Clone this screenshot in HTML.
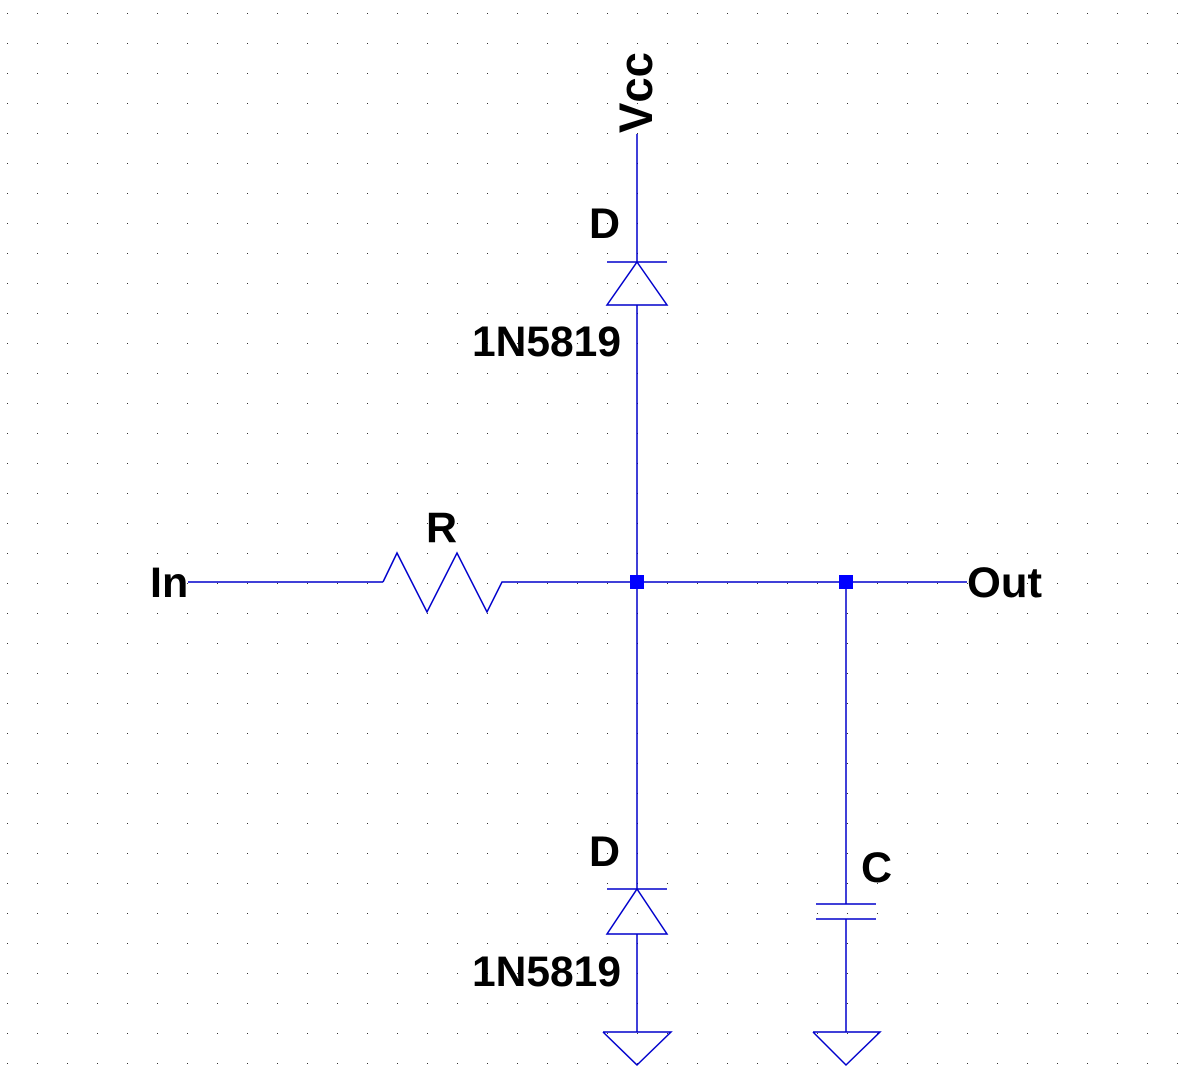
<!DOCTYPE html>
<html><head><meta charset="utf-8"><style>
html,body{margin:0;padding:0;background:#fff;}
svg{display:block}
text{font-family:"Liberation Sans",Arial,sans-serif;font-weight:bold;fill:#000;font-size:43px}
</style></head><body>
<svg id="s" width="1181" height="1073" viewBox="0 0 1181 1073" xmlns="http://www.w3.org/2000/svg">
<g id="grid"></g>
<g stroke="#0000cc" stroke-width="1.5" fill="none">
<line x1="637" y1="134" x2="637" y2="262"/>
<line x1="607" y1="262" x2="667" y2="262"/>
<polygon points="637,262 607,305 667,305"/>
<line x1="637" y1="305" x2="637" y2="889"/>
<line x1="607" y1="889" x2="667" y2="889"/>
<polygon points="637,889 607,934 667,934"/>
<line x1="637" y1="934" x2="637" y2="1032"/>
<polyline points="603,1032 671,1032 637,1065 603,1032"/>
<line x1="188" y1="582" x2="383" y2="582"/>
<polyline points="383,582 397,553 427,612 457,553 487,612 502,582 967,582"/>
<line x1="846" y1="582" x2="846" y2="904"/>
<line x1="816" y1="904" x2="876" y2="904"/>
<line x1="816" y1="919" x2="876" y2="919"/>
<line x1="846" y1="919" x2="846" y2="1032"/>
<polyline points="813,1032 880,1032 846,1065 813,1032"/>
</g>
<rect x="630" y="575" width="14" height="14" fill="#0000ff"/>
<rect x="839" y="575" width="14" height="14" fill="#0000ff"/>
<text x="150" y="597">In</text>
<text x="967" y="597" textLength="75" lengthAdjust="spacingAndGlyphs">Out</text>
<text x="426" y="542">R</text>
<text x="589" y="238">D</text>
<text x="472" y="356" textLength="149" lengthAdjust="spacingAndGlyphs">1N5819</text>
<text x="589" y="866">D</text>
<text x="472" y="986" textLength="149" lengthAdjust="spacingAndGlyphs">1N5819</text>
<text x="861" y="882">C</text>
<text transform="translate(652,133) rotate(-90)" style="font-size:47px" textLength="81" lengthAdjust="spacingAndGlyphs">Vcc</text>
</svg>
<script>
const g=document.getElementById('grid');
let d='';
for(let x=7;x<1181;x+=30){for(let y=13;y<1073;y+=30){d+='M'+x+' '+y+'h1v1h-1z';}}
const p=document.createElementNS('http://www.w3.org/2000/svg','path');
p.setAttribute('d',d);p.setAttribute('fill','#333');


g.appendChild(p);
</script>
</body></html>
